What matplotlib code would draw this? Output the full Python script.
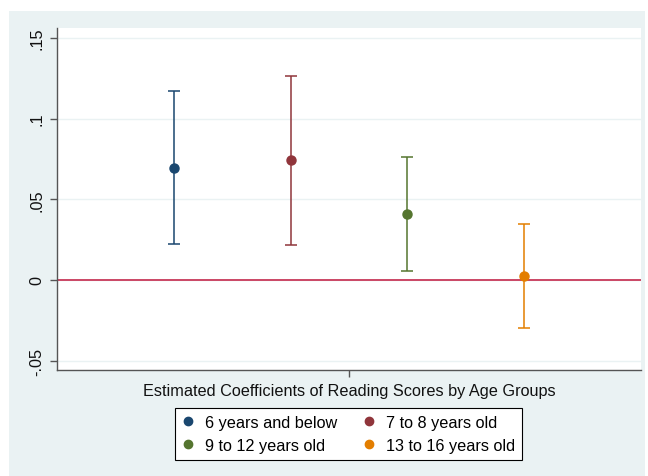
import matplotlib
matplotlib.use("Agg")
import matplotlib.pyplot as plt
from matplotlib.patches import Rectangle

# Coefficient estimates with 95% confidence bounds, one per age group
groups = ["6 years and below", "7 to 8 years old", "9 to 12 years old", "13 to 16 years old"]
estimates = [0.0694, 0.0742, 0.0409, 0.0025]
lower = [0.0221, 0.0217, 0.0056, -0.0299]
upper = [0.1170, 0.1267, 0.0765, 0.0347]
positions = [1, 2, 3, 4]
colors = ["#1a476f", "#90353b", "#55752f", "#e37e00"]

yticks = [-0.05, 0, 0.05, 0.1, 0.15]
ytick_labels = ["-.05", "0", ".05", ".1", ".15"]
xlabel = "Estimated Coefficients of Reading Scores by Age Groups"

plt.rcParams["font.family"] = ["Liberation Sans", "DejaVu Sans"]
FS = 11.7

W, H = 648, 477
fig = plt.figure(figsize=(W / 100, H / 100), dpi=100, facecolor="white")

# Graph region background
fig.patches.append(Rectangle((9 / W, 0), (645 - 9) / W, (H - 12) / H,
                             transform=fig.transFigure, facecolor="#eaf2f3",
                             edgecolor="none", zorder=-10))

ax = fig.add_axes([57 / W, (H - 371) / H, (641 - 57) / W, (371 - 29) / H])
ax.set_facecolor("white")
ax.set_zorder(1)

for x, est, lo, hi, c, name in zip(positions, estimates, lower, upper, colors, groups):
    ax.errorbar([x], [est], yerr=[[est - lo], [hi - est]], fmt="o", color=c,
                ecolor=c, elinewidth=1.1, capsize=4.5, capthick=1.1,
                markersize=6.5, label=name, zorder=3)

ax.axhline(0, color="#c8385a", linewidth=1.3, zorder=2)

ax.set_xlim(0, 5)
ax.set_ylim(-0.0558, 0.1562)
ax.set_yticks(yticks)
ax.set_yticklabels(ytick_labels, rotation=90, va="center", fontsize=FS)
ax.set_xticks([2.5])
ax.set_xticklabels([""])
ax.set_xlabel(xlabel, fontsize=FS, labelpad=1, color="#111111")

ax.grid(axis="y", color="#eaf2f3", linewidth=1.0, zorder=1)
ax.grid(axis="x", visible=False)

for side in ["top", "right"]:
    ax.spines[side].set_visible(False)
for side in ["left", "bottom"]:
    ax.spines[side].set_color("#555555")
    ax.spines[side].set_linewidth(1.0)
ax.tick_params(axis="both", direction="out", length=5, width=1.0,
               color="#555555", labelcolor="#111111")
ax.tick_params(axis="y", pad=4)

handles, labels = ax.get_legend_handles_labels()
handles = [h[0] for h in handles]
order = [0, 2, 1, 3]
leg = fig.legend([handles[i] for i in order], [labels[i] for i in order],
                 ncol=2, loc="center",
                 bbox_to_anchor=(((176.7 + 520) / 2) / W, 1 - ((409 + 461) / 2) / H),
                 fontsize=FS, frameon=True, fancybox=False, edgecolor="black",
                 facecolor="white", framealpha=1, handlelength=0.8,
                 handletextpad=0.6, columnspacing=1.6, borderpad=0.45,
                 labelspacing=0.5)
leg.get_frame().set_linewidth(0.8)
leg.set_zorder(2)
for h in leg.legend_handles:
    h.set_markersize(6)

fig.savefig("out.png", dpi=100, facecolor="white")
